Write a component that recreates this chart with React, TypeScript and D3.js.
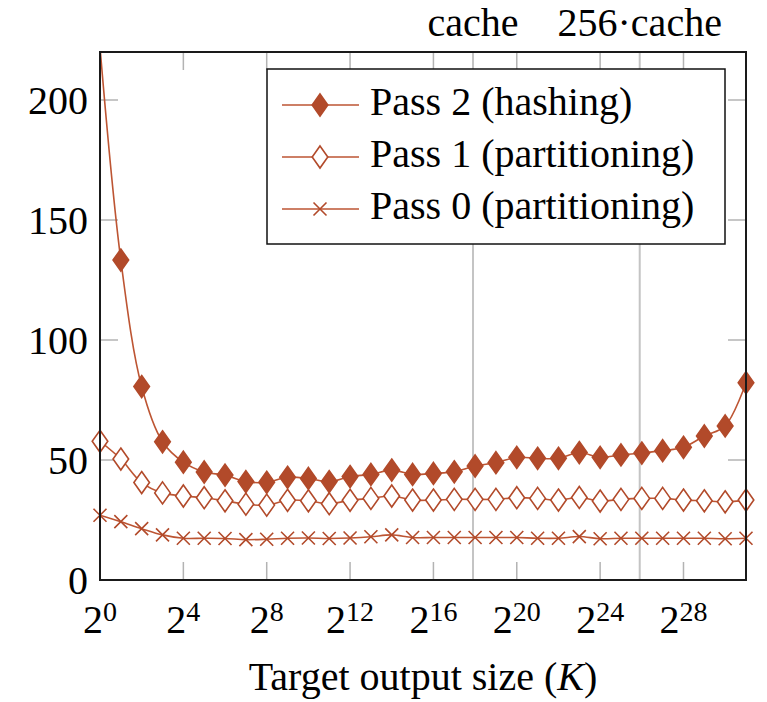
import React from "react";
import * as d3 from "d3";

// x = log2 of target output size
const exponents = d3.range(0, 32);
const pass2 = [222, 133.3, 80.6, 57.6, 49.1, 45.0, 43.7, 41.0, 40.7, 42.8, 42.3, 41.0, 43.1, 44.0, 45.8, 44.0, 44.4, 45.1, 47.5, 48.9, 51.1, 50.7, 50.7, 53.1, 51.1, 52.1, 52.9, 53.9, 55.3, 60.0, 64.2, 82.2];
const pass1 = [57.8, 50.4, 40.6, 36.3, 35.0, 34.3, 33.0, 31.6, 31.2, 33.2, 33.0, 31.8, 33.2, 34.0, 35.0, 33.3, 33.3, 33.6, 33.6, 33.6, 34.3, 34.0, 33.3, 34.4, 32.9, 33.6, 34.0, 34.0, 33.3, 33.0, 32.6, 33.3];
const pass0 = [27.0, 24.3, 21.4, 18.8, 17.4, 17.4, 17.3, 16.8, 17.0, 17.4, 17.5, 17.3, 17.5, 18.0, 18.8, 17.7, 17.7, 17.7, 17.7, 17.7, 17.7, 17.4, 17.4, 18.1, 17.2, 17.4, 17.4, 17.4, 17.4, 17.4, 17.2, 17.4];
const seriesNames = ["Pass 2 (hashing)", "Pass 1 (partitioning)", "Pass 0 (partitioning)"];
const xTicks = [0, 4, 8, 12, 16, 20, 24, 28];
const yTicks = [0, 50, 100, 150, 200];
const cacheMarks = [
  { label: "cache", exp: 17.9 },
  { label: "256·cache", exp: 25.9 },
];

const W = 767;
const H = 702;
const left = 100, right = 746, top = 52, bottom = 580;
const color = "#b24a2a";
const lineColor = "#bd5533";
const font = '"Liberation Serif"';

const x = d3.scaleLinear().domain([0, 31]).range([left, right]);
const y = d3.scaleLinear().domain([0, 220]).range([bottom, top]);

const line = d3
  .line<number>()
  .x((_, i) => x(exponents[i]))
  .y((d) => y(d))
  .curve(d3.curveCatmullRom);

const diamond = (cx: number, cy: number) =>
  `M${cx},${cy - 11}L${cx + 7.8},${cy}L${cx},${cy + 11}L${cx - 7.8},${cy}Z`;
const cross = (cx: number, cy: number) => {
  const s = 6.5;
  return `M${cx - s},${cy - s}L${cx + s},${cy + s}M${cx - s},${cy + s}L${cx + s},${cy - s}`;
};

type Kind = "filled" | "open" | "cross";
const Marker = ({ cx, cy, kind }: { cx: number; cy: number; kind: Kind }) => {
  if (kind === "cross")
    return <path d={cross(cx, cy)} stroke={color} strokeWidth={1.6} fill="none" />;
  return (
    <path
      d={diamond(cx, cy)}
      stroke={color}
      strokeWidth={1.6}
      fill={kind === "filled" ? color : "white"}
    />
  );
};

const series: { name: string; values: number[]; kind: Kind }[] = [
  { name: seriesNames[0], values: pass2, kind: "filled" },
  { name: seriesNames[1], values: pass1, kind: "open" },
  { name: seriesNames[2], values: pass0, kind: "cross" },
];

const txt = { fontFamily: font, fontSize: 40 };

export default function App() {
  const tickColor = "#b3b3b3";
  const legend = { x: 267, y: 69, w: 458, h: 175 };
  return (
    <svg
      width={W}
      height={H}
      style={{ position: "absolute", left: 0, top: 0, background: "white" }}
    >
      <defs>
        <clipPath id="plot">
          <rect x={left} y={top} width={right - left} height={bottom - top} />
        </clipPath>
      </defs>

      {/* cache grid lines */}
      {cacheMarks.map((c) => (
        <g key={c.label}>
          <line x1={x(c.exp)} x2={x(c.exp)} y1={top} y2={bottom} stroke="#c4c4c4" strokeWidth={2} />
          <text x={x(c.exp)} y={36} textAnchor="middle" style={txt}>
            {c.label}
          </text>
        </g>
      ))}

      {/* ticks */}
      {xTicks.map((t) => (
        <g key={"xt" + t}>
          <line x1={x(t)} x2={x(t)} y1={bottom} y2={bottom - 18} stroke={tickColor} strokeWidth={1.5} />
          <line x1={x(t)} x2={x(t)} y1={top} y2={top + 18} stroke={tickColor} strokeWidth={1.5} />
          <text x={x(t)} y={633} textAnchor="middle" style={txt}>
            <tspan>2</tspan>
            <tspan dy={-12} style={{ fontSize: 28 }}>
              {t}
            </tspan>
          </text>
        </g>
      ))}
      {yTicks.map((t) => (
        <g key={"yt" + t}>
          <line x1={left} x2={left + 18} y1={y(t)} y2={y(t)} stroke={tickColor} strokeWidth={1.5} />
          <line x1={right} x2={right - 18} y1={y(t)} y2={y(t)} stroke={tickColor} strokeWidth={1.5} />
          <text x={88} y={y(t) + 13.5} textAnchor="end" style={txt}>
            {t}
          </text>
        </g>
      ))}

      {/* data */}
      <g clipPath="url(#plot)">
        {series.map((s) => (
          <path key={s.name} d={line(s.values) ?? ""} fill="none" stroke={lineColor} strokeWidth={1.6} />
        ))}
      </g>
      {series.map((s) => (
        <g key={s.name + "m"}>
          {s.values.map((v, i) =>
            v <= 220 ? <Marker key={i} cx={x(exponents[i])} cy={y(v)} kind={s.kind} /> : null
          )}
        </g>
      ))}

      {/* legend */}
      <rect x={legend.x} y={legend.y} width={legend.w} height={legend.h} fill="white" stroke="#111" strokeWidth={1.5} />
      {series.map((s, i) => {
        const ly = 105 + i * 52;
        return (
          <g key={s.name + "l"}>
            <line x1={282} x2={359} y1={ly} y2={ly} stroke={lineColor} strokeWidth={1.6} />
            <Marker cx={320} cy={ly} kind={s.kind} />
            <text x={370} y={ly + 10} style={txt}>
              {s.name}
            </text>
          </g>
        );
      })}

      {/* frame */}
      <rect x={left} y={top} width={right - left} height={bottom - top} fill="none" stroke="#1a1a1a" strokeWidth={2} />

      {/* axis label */}
      <text x={(left + right) / 2} y={690} textAnchor="middle" style={txt}>
        Target output size (<tspan fontStyle="italic">K</tspan>)
      </text>
    </svg>
  );
}
